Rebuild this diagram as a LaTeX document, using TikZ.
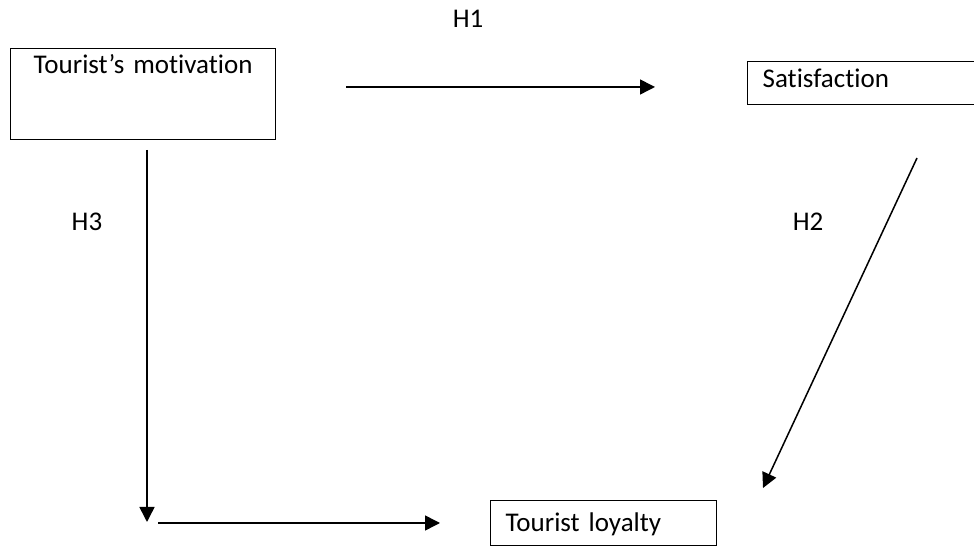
\documentclass[tikz,border=0pt]{standalone}
\usepackage{fontspec}
\setmainfont[Ligatures={NoCommon}]{Carlito}
\usetikzlibrary{arrows.meta}
\begin{document}
\begin{tikzpicture}[x=1pt,y=1pt,
  box/.style={draw=black, line width=1.3pt, inner ysep=0pt, font=\fontsize{27}{32}\selectfont},
  lab/.style={font=\fontsize{27}{32}\selectfont, inner sep=0pt},
  arr/.style={line width=1.5pt, -{Triangle[length=15pt,width=15pt]}}]
\useasboundingbox (0,0) rectangle (974,548);
% boxes
\node[box, anchor=north west, inner xsep=0pt, text width=265pt, align=center,
      text height=25pt, text depth=66pt] (mot) at (10,500) {Tourist’s motivation};
\node[box, anchor=north west, inner xsep=15pt, text width=203pt, align=left,
      text height=26pt, text depth=17pt] (sat) at (747,487) {Satisfaction};
\node[box, anchor=north west, inner xsep=15pt, text width=196pt, align=left,
      text height=31pt, text depth=14pt] (loy) at (490,48) {Tourist loyalty};
% labels
\node[lab] (h1) at (468,529) {H1};
\node[lab] (h2) at (808,326) {H2};
\node[lab] (h3) at (87,326) {H3};
% connector end points
\coordinate (a1s) at (346,461);
\coordinate (a1e) at (655,461);
\coordinate (a2s) at (917,390);
\coordinate (a2e) at (763,60);
\coordinate (a3s) at (147,398);
\coordinate (a3e) at (147,26);
\coordinate (a4s) at (158,25);
\coordinate (a4e) at (440,25);
\draw[arr] (a1s) -- (a1e);
\draw[arr] (a2s) -- (a2e);
\draw[arr] (a3s) -- (a3e);
\draw[arr] (a4s) -- (a4e);
\end{tikzpicture}
\end{document}
